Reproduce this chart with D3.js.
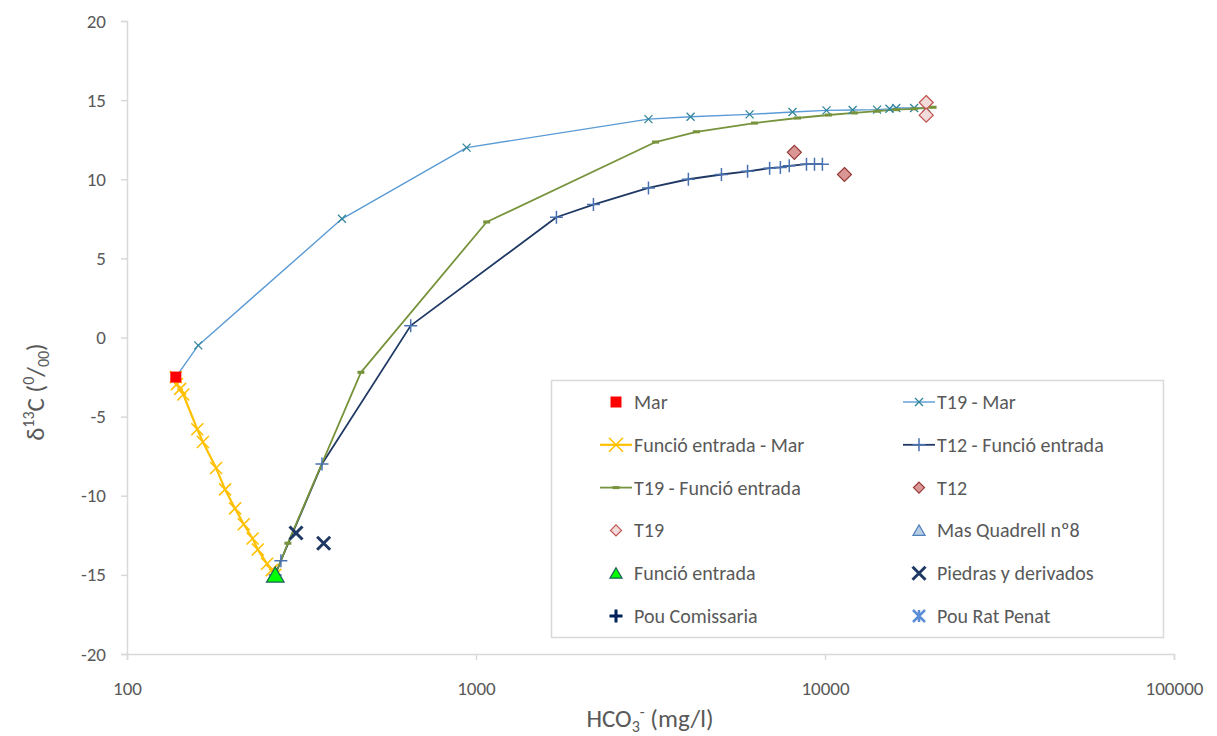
<!DOCTYPE html>
<html>
<head>
<meta charset="utf-8">
<script src="https://cdn.jsdelivr.net/npm/d3@7"></script>
<style>
  body { margin: 0; background: #fff; }
  svg text { font-family: Carlito, Lato, "Liberation Sans", sans-serif; fill: #595959; }
</style>
</head>
<body>
<svg id="chart" width="1217" height="736"></svg>
<script>
// Axis ticks
const xTicks = [100, 1000, 10000, 100000];
const yTicks = [-20, -15, -10, -5, 0, 5, 10, 15, 20];

// [HCO3- (mg/l), d13C (per mil)]
const mar = [[138, -2.5]];
const funcioEntrada = [[266, -15]];

const t19Mar = [
  [138, -2.5], [160, -0.5], [413, 7.5], [940, 12.0], [3120, 13.8], [4120, 13.95],
  [6080, 14.1], [8070, 14.25], [10100, 14.35], [12000, 14.38], [14100, 14.4],
  [15300, 14.45], [16000, 14.5], [18000, 14.5], [19500, 14.5]
];

const funcioMar = [
  [138, -2.5], [139, -2.95], [142, -3.25], [145, -3.6], [159, -5.8], [165, -6.6],
  [180, -8.25], [191, -9.6], [204, -10.8], [216, -11.8], [229, -12.7], [237, -13.4],
  [252, -14.3], [260, -14.7], [266, -15]
];

const t12Funcio = [
  [266, -15], [276, -14.1], [362, -8.0], [650, 0.75], [1700, 7.6], [2170, 8.4],
  [3120, 9.45], [4060, 10.0], [5050, 10.3], [6000, 10.5], [6940, 10.7], [7450, 10.75],
  [7900, 10.85], [8850, 10.95], [9330, 10.95], [9830, 10.95]
];

const t19Funcio = [
  [266, -15], [289, -13.0], [468, -2.2], [1073, 7.3], [3270, 12.35], [4280, 13.0],
  [6280, 13.55], [8340, 13.87], [10230, 14.06], [12130, 14.19], [14100, 14.3],
  [16000, 14.4], [18000, 14.45], [20400, 14.55]
];

const t12 = [[8170, 11.7], [11370, 10.3]];
const t19 = [[19500, 14.85], [19500, 14.05]];
const masQuadrell = [];
const piedras = [[305, -12.35], [366, -13.0]];
const pouComissaria = [];
const pouRatPenat = [];

// Marker shapes centred on the origin
const shapes = {
  square: s => `M${-s/2},${-s/2}h${s}v${s}h${-s}Z`,
  x: s => `M${-s/2},${-s/2}L${s/2},${s/2}M${-s/2},${s/2}L${s/2},${-s/2}`,
  plus: s => `M${-s/2},0H${s/2}M0,${-s/2}V${s/2}`,
  dash: s => `M${-s/2},${-s*0.22}h${s}v${s*0.44}h${-s}Z`,
  diamond: s => `M0,${-s/2}L${s/2},0L0,${s/2}L${-s/2},0Z`,
  triangle: s => `M0,${-s*0.5}L${s*0.55},${s*0.45}L${-s*0.55},${s*0.45}Z`,
  asterisk: s => `M${-s/2},${-s/2}L${s/2},${s/2}M${-s/2},${s/2}L${s/2},${-s/2}M0,${-s/2}V${s/2}`
};

const series = {
  mar:        { name: "Mar", data: mar, line: null,
                marker: { shape: "square", size: 11, fill: "#FF0000", stroke: "none", sw: 0 } },
  t19Mar:     { name: "T19 - Mar", data: t19Mar, line: { color: "#5B9BD5", width: 1.4 },
                marker: { shape: "x", size: 8, fill: "none", stroke: "#31859C", sw: 1.3 } },
  funcioMar:  { name: "Funció entrada - Mar", data: funcioMar, line: { color: "#FFC000", width: 2.2 },
                marker: { shape: "x", size: 12, fill: "none", stroke: "#FFC000", sw: 1.6 } },
  t12Funcio:  { name: "T12 - Funció entrada", data: t12Funcio, line: { color: "#1F3864", width: 1.8 },
                marker: { shape: "plus", size: 13, fill: "none", stroke: "#4A72B0", sw: 1.5 } },
  t19Funcio:  { name: "T19 - Funció entrada", data: t19Funcio, line: { color: "#77933C", width: 1.8 },
                marker: { shape: "dash", size: 7, fill: "#77933C", stroke: "none", sw: 0 } },
  t12:        { name: "T12", data: t12, line: null,
                marker: { shape: "diamond", size: 14, fill: "#D99694", stroke: "#953735", sw: 1.2 } },
  t19:        { name: "T19", data: t19, line: null,
                marker: { shape: "diamond", size: 14, fill: "#F2DCDB", stroke: "#C0504D", sw: 1.2 } },
  masQuadrell:{ name: "Mas Quadrell nº8", data: masQuadrell, line: null,
                marker: { shape: "triangle", size: 13, fill: "#B9CDE5", stroke: "#4F81BD", sw: 1.2 } },
  funcio:     { name: "Funció entrada", data: funcioEntrada, line: null,
                marker: { shape: "triangle", size: 16, fill: "#00FF00", stroke: "#1F5F5F", sw: 1.2 } },
  piedras:    { name: "Piedras y derivados", data: piedras, line: null,
                marker: { shape: "x", size: 13, fill: "none", stroke: "#1F3864", sw: 3 } },
  pouComissaria: { name: "Pou Comissaria", data: pouComissaria, line: null,
                marker: { shape: "plus", size: 13, fill: "none", stroke: "#002060", sw: 3 } },
  pouRatPenat:{ name: "Pou Rat Penat", data: pouRatPenat, line: null,
                marker: { shape: "asterisk", size: 12, fill: "none", stroke: "#5B8ED6", sw: 2.5 } }
};

const drawOrder = ["t19Mar", "funcioMar", "t12Funcio", "t19Funcio", "mar", "t12", "t19",
                   "masQuadrell", "funcio", "piedras", "pouComissaria", "pouRatPenat"];
const legendOrder = [
  ["mar", "t19Mar"], ["funcioMar", "t12Funcio"], ["t19Funcio", "t12"],
  ["t19", "masQuadrell"], ["funcio", "piedras"], ["pouComissaria", "pouRatPenat"]
];

const svg = d3.select("#chart");
const plot = { left: 127, right: 1174, top: 21, bottom: 654 };

const x = d3.scaleLog().domain([100, 100000]).range([plot.left, plot.right]);
const y = d3.scaleLinear().domain([-20, 20]).range([plot.bottom, plot.top]);

// Axes
const xAxis = svg.append("g")
  .attr("transform", `translate(0,${plot.bottom})`)
  .call(d3.axisBottom(x).tickValues(xTicks).tickFormat(d => String(d)).tickSize(6).tickPadding(22));
const yAxis = svg.append("g")
  .attr("transform", `translate(${plot.left},0)`)
  .call(d3.axisLeft(y).tickValues(yTicks).tickFormat(d => String(d)).tickSize(6).tickPadding(15));

[xAxis, yAxis].forEach(a => {
  a.selectAll(".domain").attr("stroke", "#D9D9D9").attr("stroke-width", 1.5);
  a.selectAll(".tick line").attr("stroke", "#D9D9D9").attr("stroke-width", 1.5);
  a.selectAll(".tick text").attr("font-size", 19).attr("fill", "#595959")
    .style("font-family", "Carlito, Lato, 'Liberation Sans', sans-serif");
});

// Lines
const lineGen = d3.line().x(d => x(d[0])).y(d => y(d[1]));
drawOrder.forEach(k => {
  const s = series[k];
  if (!s.line) return;
  svg.append("path").datum(s.data)
    .attr("d", lineGen).attr("fill", "none")
    .attr("stroke", s.line.color).attr("stroke-width", s.line.width)
    .attr("stroke-linejoin", "round");
});

// Markers
function drawMarker(g, m) {
  return g.append("path").attr("d", shapes[m.shape](m.size))
    .attr("fill", m.fill).attr("stroke", m.stroke).attr("stroke-width", m.sw);
}
drawOrder.forEach(k => {
  const s = series[k];
  const g = svg.append("g");
  g.selectAll("g").data(s.data).join("g")
    .attr("transform", d => `translate(${x(d[0])},${y(d[1])})`)
    .each(function () { drawMarker(d3.select(this), s.marker); });
});

// Legend
const legend = svg.append("g");
legend.append("rect").attr("x", 551.5).attr("y", 380.5).attr("width", 612).attr("height", 257)
  .attr("fill", "#fff").attr("stroke", "#D9D9D9").attr("stroke-width", 1.5);
const colX = [616, 919];
const rowY0 = 402, rowDy = 42.8;
legendOrder.forEach((row, i) => {
  row.forEach((k, j) => {
    const s = series[k];
    const cx = colX[j], cy = rowY0 + i * rowDy;
    const g = legend.append("g").attr("transform", `translate(${cx},${cy})`);
    if (s.line) {
      g.append("line").attr("x1", -16).attr("x2", 16)
        .attr("stroke", s.line.color).attr("stroke-width", s.line.width);
    }
    const m = Object.assign({}, s.marker);
    if (m.shape === "diamond" || m.shape === "triangle") m.size = 11;
    if (k === "funcioMar") m.size = 14;
    drawMarker(g, m);
    legend.append("text").attr("x", cx + 18).attr("y", cy).attr("dy", "0.35em")
      .attr("font-size", 20).text(s.name);
  });
});

// Axis titles
const xt = svg.append("text").attr("x", 650).attr("y", 727).attr("text-anchor", "middle")
  .attr("font-size", 25);
xt.append("tspan").text("HCO");
xt.append("tspan").attr("font-size", 16).attr("dy", 5).text("3");
xt.append("tspan").attr("font-size", 16).attr("dy", -15).text("-");
xt.append("tspan").attr("dy", 10).text(" (mg/l)");

const yt = svg.append("text").attr("transform", "translate(44,392) rotate(-90)")
  .attr("text-anchor", "middle").attr("font-size", 25);
yt.append("tspan").text("δ");
yt.append("tspan").attr("font-size", 16).attr("dy", -10).text("13");
yt.append("tspan").attr("dy", 10).text("C (");
yt.append("tspan").attr("font-size", 16).attr("dy", -10).text("0");
yt.append("tspan").attr("dy", 10).text("/");
yt.append("tspan").attr("font-size", 16).attr("dy", 5).text("00");
yt.append("tspan").attr("dy", -5).text(")");
</script>
</body>
</html>
